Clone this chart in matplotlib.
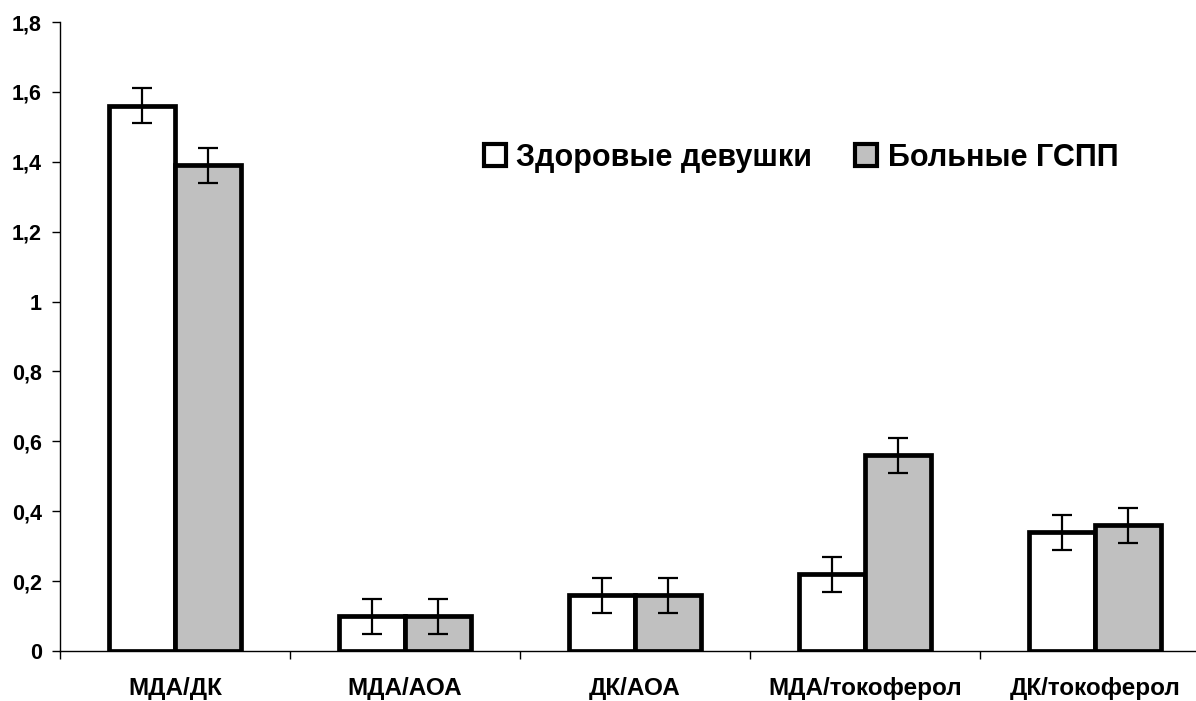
import numpy as np
from matplotlib import pyplot as plt
from matplotlib.ticker import FixedLocator

plt.rcParams['font.family'] = ['Liberation Sans', 'DejaVu Sans']
plt.rcParams['font.weight'] = 'bold'

categories = ['МДА/ДК', 'МДА/АОА', 'ДК/АОА', 'МДА/токоферол', 'ДК/токоферол']
healthy = [1.56, 0.10, 0.16, 0.22, 0.34]
patients = [1.39, 0.10, 0.16, 0.56, 0.36]
healthy_err = [0.05, 0.05, 0.05, 0.05, 0.05]
patients_err = [0.05, 0.05, 0.05, 0.05, 0.05]
series_names = ['Здоровые девушки', 'Больные ГСПП']
y_ticks = [0, 0.2, 0.4, 0.6, 0.8, 1.0, 1.2, 1.4, 1.6, 1.8]

W, H = 1196, 701
fig = plt.figure(figsize=(W / 100, H / 100), dpi=100)
# the category axis runs past the right edge of the picture, as in the original
ax = fig.add_axes([60 / W, 50 / H, 1150 / W, 629 / H])

x = np.arange(len(categories))
w = 0.287
err_kw = dict(ecolor='black', elinewidth=1.6, capsize=7.5, capthick=1.6)
ax.bar(x - w / 2, healthy, w, color='white', edgecolor='black', linewidth=3.4,
       yerr=healthy_err, error_kw=err_kw, label=series_names[0], zorder=2)
ax.bar(x + w / 2, patients, w, color='#c0c0c0', edgecolor='black', linewidth=3.4,
       yerr=patients_err, error_kw=err_kw, label=series_names[1], zorder=2)

ax.set_xlim(-0.5, len(categories) - 0.5)
ax.set_ylim(0, 1.8)
ax.set_yticks(y_ticks)
ax.set_yticklabels([f'{v:g}'.replace('.', ',') for v in y_ticks], fontsize=15.5, fontweight='bold')
ax.xaxis.set_major_locator(FixedLocator(np.arange(len(categories) + 1) - 0.5))
ax.xaxis.set_minor_locator(FixedLocator(x))
ax.set_xticklabels([])
ax.set_xticklabels(categories, minor=True, fontsize=17.5, fontweight='bold')
ax.tick_params(axis='x', which='minor', length=0, pad=19)
ax.tick_params(axis='x', which='major', length=6, width=1, direction='out')
ax.tick_params(axis='y', length=6, width=1, pad=7)

for side in ['top', 'right']:
    ax.spines[side].set_visible(False)
ax.spines['left'].set_linewidth(1)
ax.spines['bottom'].set_linewidth(1)

leg = ax.legend(loc='center', bbox_to_anchor=((801 - 60) / 1150, (701 - 50 - 158) / 629),
                ncol=2, frameon=False, prop={'weight': 'bold', 'size': 22},
                handlelength=0.72, handleheight=0.72, handletextpad=0.35, columnspacing=1.4)
for p in leg.get_patches():
    p.set_linewidth(3.0)

fig.savefig('out.png', dpi=100)
